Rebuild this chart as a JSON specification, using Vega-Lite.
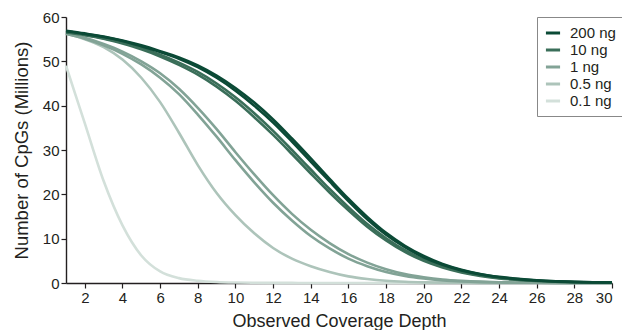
{
  "$schema": "https://vega.github.io/schema/vega-lite/v6.json",
  "width": 546,
  "height": 266,
  "autosize": "none",
  "padding": {"left": 66, "top": 17, "right": 10, "bottom": 47},
  "background": "white",
  "config": {
    "font": "Liberation Sans",
    "view": {"stroke": null},
    "axis": {
      "grid": false,
      "domainColor": "#231f20",
      "domainWidth": 1.4,
      "tickColor": "#231f20",
      "tickWidth": 1.2,
      "tickSize": 5,
      "labelColor": "#231f20",
      "labelFontSize": 15,
      "labelPadding": 2,
      "titleColor": "#231f20",
      "titleFontSize": 18,
      "titleFontWeight": "normal"
    },
    "legend": {
      "labelFontSize": 15,
      "labelColor": "#231f20"
    }
  },
  "data": {
    "values": [
      {"x":1,"c200a":56.9,"c200b":56.8,"c10a":56.6,"c10b":56.5,"c1a":56.3,"c1b":56.2,"c05":56.2,"c01":49},
      {"x":2,"c200a":56.3,"c200b":56.2,"c10a":56.0,"c10b":55.9,"c1a":55.3,"c1b":55.1,"c05":55.0,"c01":36},
      {"x":3,"c200a":55.6,"c200b":55.5,"c10a":55.2,"c10b":55.1,"c1a":53.9,"c1b":53.6,"c05":53.2,"c01":23},
      {"x":4,"c200a":54.7,"c200b":54.6,"c10a":54.2,"c10b":54.0,"c1a":52.2,"c1b":51.7,"c05":50.4,"c01":13},
      {"x":5,"c200a":53.6,"c200b":53.4,"c10a":53.0,"c10b":52.7,"c1a":50.0,"c1b":49.3,"c05":46.3,"c01":6.2},
      {"x":6,"c200a":52.3,"c200b":52.1,"c10a":51.5,"c10b":51.1,"c1a":47.3,"c1b":46.3,"c05":40.8,"c01":2.6},
      {"x":7,"c200a":50.9,"c200b":50.6,"c10a":49.7,"c10b":49.2,"c1a":43.8,"c1b":42.6,"c05":33.9,"c01":1.1},
      {"x":8,"c200a":49.1,"c200b":48.7,"c10a":47.6,"c10b":47.0,"c1a":39.5,"c1b":38.0,"c05":26.6,"c01":0.5},
      {"x":9,"c200a":46.8,"c200b":46.3,"c10a":45.0,"c10b":44.3,"c1a":34.7,"c1b":33.0,"c05":20.3,"c01":0.22},
      {"x":10,"c200a":44.0,"c200b":43.4,"c10a":41.9,"c10b":41.1,"c1a":29.5,"c1b":27.7,"c05":15.3,"c01":0.1},
      {"x":11,"c200a":40.7,"c200b":40.0,"c10a":38.3,"c10b":37.4,"c1a":24.5,"c1b":22.7,"c05":11.2,"c01":0.05},
      {"x":12,"c200a":36.9,"c200b":36.2,"c10a":34.3,"c10b":33.4,"c1a":19.8,"c1b":18.1,"c05":7.9,"c01":0.03},
      {"x":13,"c200a":32.6,"c200b":31.9,"c10a":30.0,"c10b":29.1,"c1a":15.6,"c1b":14.1,"c05":5.5,"c01":0.02},
      {"x":14,"c200a":28.1,"c200b":27.4,"c10a":25.6,"c10b":24.7,"c1a":12.0,"c1b":10.6,"c05":3.8,"c01":0.01},
      {"x":15,"c200a":23.5,"c200b":22.9,"c10a":21.2,"c10b":20.4,"c1a":9.0,"c1b":7.8,"c05":2.5,"c01":0.01},
      {"x":16,"c200a":19.0,"c200b":18.5,"c10a":17.1,"c10b":16.4,"c1a":6.5,"c1b":5.5,"c05":1.5,"c01":0.01},
      {"x":17,"c200a":14.9,"c200b":14.4,"c10a":13.3,"c10b":12.7,"c1a":4.6,"c1b":3.8,"c05":0.9,"c01":0},
      {"x":18,"c200a":11.3,"c200b":10.9,"c10a":10.1,"c10b":9.6,"c1a":3.1,"c1b":2.5,"c05":0.5,"c01":0},
      {"x":19,"c200a":8.4,"c200b":8.1,"c10a":7.4,"c10b":7.0,"c1a":2.0,"c1b":1.6,"c05":0.28,"c01":0},
      {"x":20,"c200a":6.1,"c200b":5.8,"c10a":5.3,"c10b":5.0,"c1a":1.3,"c1b":1.0,"c05":0.15,"c01":0},
      {"x":21,"c200a":4.3,"c200b":4.1,"c10a":3.7,"c10b":3.5,"c1a":0.8,"c1b":0.6,"c05":0.08,"c01":0},
      {"x":22,"c200a":3.0,"c200b":2.85,"c10a":2.55,"c10b":2.4,"c1a":0.5,"c1b":0.35,"c05":0.04,"c01":0},
      {"x":23,"c200a":2.05,"c200b":1.95,"c10a":1.75,"c10b":1.6,"c1a":0.3,"c1b":0.2,"c05":0.02,"c01":0},
      {"x":24,"c200a":1.4,"c200b":1.3,"c10a":1.15,"c10b":1.05,"c1a":0.18,"c1b":0.12,"c05":0.01,"c01":0},
      {"x":25,"c200a":0.95,"c200b":0.88,"c10a":0.75,"c10b":0.7,"c1a":0.1,"c1b":0.07,"c05":0.01,"c01":0},
      {"x":26,"c200a":0.62,"c200b":0.58,"c10a":0.5,"c10b":0.45,"c1a":0.06,"c1b":0.04,"c05":0,"c01":0},
      {"x":27,"c200a":0.4,"c200b":0.37,"c10a":0.32,"c10b":0.28,"c1a":0.03,"c1b":0.02,"c05":0,"c01":0},
      {"x":28,"c200a":0.26,"c200b":0.24,"c10a":0.2,"c10b":0.18,"c1a":0.02,"c1b":0.01,"c05":0,"c01":0},
      {"x":29,"c200a":0.16,"c200b":0.15,"c10a":0.12,"c10b":0.1,"c1a":0.01,"c1b":0.01,"c05":0,"c01":0},
      {"x":30,"c200a":0.1,"c200b":0.1,"c10a":0.08,"c10b":0.07,"c1a":0,"c1b":0,"c05":0,"c01":0}
    ]
  },
  "encoding": {
    "x": {
      "field": "x",
      "type": "quantitative",
      "scale": {"domain": [1, 30], "nice": false, "zero": false},
      "axis": {"values": [2,4,6,8,10,12,14,16,18,20,22,24,26,28,30], "title": "Observed Coverage Depth", "titlePadding": 7}
    },
    "y": {
      "field": "v",
      "type": "quantitative",
      "scale": {"domain": [0, 60], "nice": false},
      "axis": {"values": [0,10,20,30,40,50,60], "title": "Number of CpGs (Millions)", "titlePadding": 11, "titleFontSize": 18.5}
    }
  },
  "layer": [
    {
      "transform": [{"fold": ["c01"], "as": ["rep", "v"]}],
      "mark": {"type": "line", "interpolate": "monotone", "strokeWidth": 2.6},
      "encoding": {
        "detail": {"field": "rep"},
        "color": {"datum": "0.1 ng", "type": "nominal", "scale": {"domain": ["200 ng","10 ng","1 ng","0.5 ng","0.1 ng"], "range": ["#0b4a36","#3a6e59","#82a396","#adc4ba","#d3e0da"]},
          "legend": {"title": null, "orient": "none", "legendX": 471, "legendY": 0, "symbolType": "stroke", "symbolSize": 200, "symbolStrokeWidth": 3, "strokeColor": "#888888", "padding": 7, "rowPadding": -1, "labelOffset": 8, "fillColor": "white"}}
      }
    },
    {
      "transform": [{"fold": ["c05"], "as": ["rep", "v"]}],
      "mark": {"type": "line", "interpolate": "monotone", "strokeWidth": 2.6},
      "encoding": {"detail": {"field": "rep"}, "color": {"datum": "0.5 ng", "type": "nominal"}}
    },
    {
      "transform": [{"fold": ["c1a", "c1b"], "as": ["rep", "v"]}],
      "mark": {"type": "line", "interpolate": "monotone", "strokeWidth": 2.6},
      "encoding": {"detail": {"field": "rep"}, "color": {"datum": "1 ng", "type": "nominal"}}
    },
    {
      "transform": [{"fold": ["c10a", "c10b"], "as": ["rep", "v"]}],
      "mark": {"type": "line", "interpolate": "monotone", "strokeWidth": 2.6},
      "encoding": {"detail": {"field": "rep"}, "color": {"datum": "10 ng", "type": "nominal"}}
    },
    {
      "transform": [{"fold": ["c200a", "c200b"], "as": ["rep", "v"]}],
      "mark": {"type": "line", "interpolate": "monotone", "strokeWidth": 2.6},
      "encoding": {"detail": {"field": "rep"}, "color": {"datum": "200 ng", "type": "nominal"}}
    }
  ]
}
